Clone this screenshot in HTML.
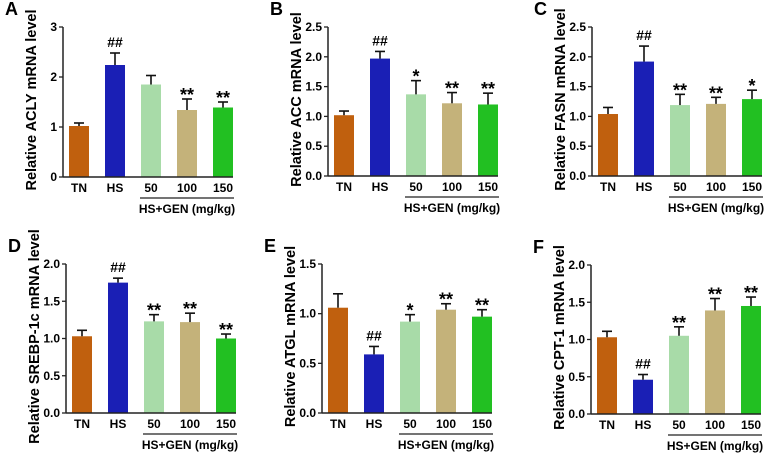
<!DOCTYPE html>
<html><head><meta charset="utf-8"><style>
body{margin:0;background:#fff}
svg{display:block;font-family:"Liberation Sans",Arial,sans-serif;font-weight:bold}
</style></head><body>
<svg id="c" width="770" height="454" viewBox="0 0 770 454"></svg>
<script>
const categories = ["TN","HS","50","100","150"];
const colors = ["#c0600e","#1a1fb5","#a8dba8","#c4b27a","#22c022"];
const aValues=[1.02,2.24,1.85,1.34,1.39], aErr=[0.06,0.24,0.18,0.22,0.11], aMarks=["","##","","**","**"];
const bValues=[1.02,1.97,1.37,1.22,1.20], bErr=[0.07,0.12,0.23,0.18,0.19], bMarks=["","##","*","**","**"];
const cValues=[1.04,1.92,1.19,1.21,1.29], cErr=[0.11,0.26,0.18,0.11,0.15], cMarks=["","##","**","**","*"];
const dValues=[1.03,1.75,1.23,1.22,1.00], dErr=[0.08,0.06,0.09,0.12,0.06], dMarks=["","##","**","**","**"];
const eValues=[1.06,0.59,0.92,1.04,0.97], eErr=[0.14,0.08,0.07,0.06,0.07], eMarks=["","##","*","**","**"];
const fValues=[1.03,0.46,1.05,1.39,1.45], fErr=[0.08,0.07,0.12,0.16,0.12], fMarks=["","##","**","**","**"];
const aTicks=["0","1","2","3"], bTicks=["0.0","0.5","1.0","1.5","2.0","2.5"], cTicks=bTicks;
const dTicks=["0.0","0.5","1.0","1.5","2.0"], eTicks=["0.0","0.5","1.0","1.5"], fTicks=dTicks;
const panels=[
 {id:"a",L:"A",title:"Relative ACLY mRNA level",v:aValues,e:aErr,m:aMarks,t:aTicks,x0:63,yTop:27,y0:177},
 {id:"b",L:"B",title:"Relative ACC mRNA level",v:bValues,e:bErr,m:bMarks,t:bTicks,x0:328,yTop:27,y0:176},
 {id:"c",L:"C",title:"Relative FASN mRNA level",v:cValues,e:cErr,m:cMarks,t:cTicks,x0:592,yTop:27,y0:176},
 {id:"d",L:"D",title:"Relative SREBP-1c mRNA level",v:dValues,e:dErr,m:dMarks,t:dTicks,x0:66,yTop:264,y0:413},
 {id:"e",L:"E",title:"Relative ATGL mRNA level",v:eValues,e:eErr,m:eMarks,t:eTicks,x0:322,yTop:264,y0:413},
 {id:"f",L:"F",title:"Relative CPT-1 mRNA level",v:fValues,e:fErr,m:fMarks,t:fTicks,x0:591,yTop:265,y0:414}
];
const svg=document.getElementById('c');const NS="http://www.w3.org/2000/svg";
function mk(tag,attrs,parent,text){const el=document.createElementNS(NS,tag);for(const k in attrs)el.setAttribute(k,attrs[k]);if(text!==undefined)el.textContent=text;parent.appendChild(el);return el;}
panels.forEach(p=>{
 const g=mk('g',{},svg);
 
 
 const max=parseFloat(p.t[p.t.length-1]);
 const y=v=>p.y0-(v/max)*(p.y0-p.yTop);
 const x=i=>p.x0+16+36*i;
 const lt=mk('text',{x:p.x0-58,y:p.yTop-12,'font-size':18},g,p.L);
 
 
 const cy=(p.yTop+p.y0)/2-2, tx=p.x0-27;
 const yt=mk('text',{x:tx,y:cy,'font-size':14.5,'text-anchor':'middle',transform:`rotate(-90 ${tx} ${cy})`},g,p.title);
 
 
 p.t.forEach(t=>{const yy=y(parseFloat(t));
  mk('line',{x1:p.x0-4,x2:p.x0,y1:yy,y2:yy,stroke:'#222','stroke-width':1.3},g);
  const tl=mk('text',{x:p.x0-6,y:yy+4,'font-size':12,'text-anchor':'end'},g,t);
  
  
 });
 categories.forEach((c,i)=>{
  const cx=x(i),top=y(p.v[i]),et=y(p.v[i]+p.e[i]);
  const b=mk('rect',{x:cx-10,y:top,width:20,height:p.y0-top,fill:colors[i]},g);
  
  
  mk('line',{x1:cx,x2:cx,y1:top,y2:et,stroke:'#111','stroke-width':1.6},g);
  mk('line',{x1:cx-5,x2:cx+5,y1:et,y2:et,stroke:'#111','stroke-width':1.6},g);
  if(p.m[i]){const star=p.m[i][0]=='*';const s=mk('text',{x:cx,y:star?et+2:et-6,'font-size':star?18:14,'text-anchor':'middle'},g,p.m[i]);
   
   }
  const xl=mk('text',{x:cx,y:p.y0+15,'font-size':12,'text-anchor':'middle'},g,c);
  
  
 });
 mk('line',{x1:p.x0,x2:p.x0,y1:p.yTop,y2:p.y0,stroke:'#222','stroke-width':1.5},g);
 mk('line',{x1:p.x0,x2:p.x0+170,y1:p.y0,y2:p.y0,stroke:'#222','stroke-width':1.5},g);
 mk('line',{x1:x(2)-11,x2:x(4)+11,y1:p.y0+21,y2:p.y0+21,stroke:'#222','stroke-width':1.2},g);
 const gl=mk('text',{x:(x(2)+x(4))/2,y:p.y0+36,'font-size':12,'text-anchor':'middle'},g,'HS+GEN (mg/kg)');
 
 
});
</script>
</body></html>
